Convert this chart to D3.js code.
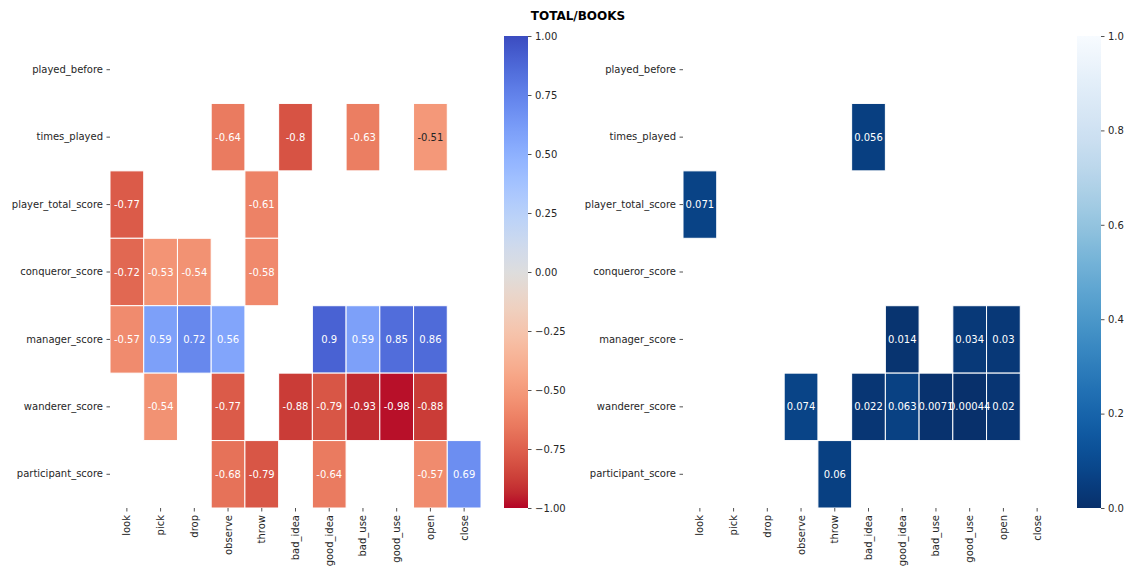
<!DOCTYPE html>
<html>
<head>
<meta charset="utf-8">
<script src="https://cdn.jsdelivr.net/npm/d3@7"></script>
<style>
  html, body { margin: 0; padding: 0; background: #fff; }
  text { font-family: "DejaVu Sans", sans-serif; }
</style>
</head>
<body>
<svg id="chart" width="1128" height="567"></svg>
<script>
// Row and column labels shared by both heatmaps
const rowLabels = ["played_before", "times_played", "player_total_score", "conqueror_score",
                   "manager_score", "wanderer_score", "participant_score"];
const colLabels = ["look", "pick", "drop", "observe", "throw", "bad_idea", "good_idea",
                   "bad_use", "good_use", "open", "close"];

// Correlation coefficients shown (row, column, r)
const corrCells = [
  ["times_played", "observe", -0.64], ["times_played", "bad_idea", -0.8],
  ["times_played", "bad_use", -0.63], ["times_played", "open", -0.51],
  ["player_total_score", "look", -0.77], ["player_total_score", "throw", -0.61],
  ["conqueror_score", "look", -0.72], ["conqueror_score", "pick", -0.53],
  ["conqueror_score", "drop", -0.54], ["conqueror_score", "throw", -0.58],
  ["manager_score", "look", -0.57], ["manager_score", "pick", 0.59],
  ["manager_score", "drop", 0.72], ["manager_score", "observe", 0.56],
  ["manager_score", "good_idea", 0.9], ["manager_score", "bad_use", 0.59],
  ["manager_score", "good_use", 0.85], ["manager_score", "open", 0.86],
  ["wanderer_score", "pick", -0.54], ["wanderer_score", "observe", -0.77],
  ["wanderer_score", "bad_idea", -0.88], ["wanderer_score", "good_idea", -0.79],
  ["wanderer_score", "bad_use", -0.93], ["wanderer_score", "good_use", -0.98],
  ["wanderer_score", "open", -0.88],
  ["participant_score", "observe", -0.68], ["participant_score", "throw", -0.79],
  ["participant_score", "good_idea", -0.64], ["participant_score", "open", -0.57],
  ["participant_score", "close", 0.69]
];

// p-values shown (row, column, p)
const pvalCells = [
  ["times_played", "bad_idea", 0.056],
  ["player_total_score", "look", 0.071],
  ["manager_score", "good_idea", 0.014], ["manager_score", "good_use", 0.034],
  ["manager_score", "open", 0.03],
  ["wanderer_score", "observe", 0.074], ["wanderer_score", "bad_idea", 0.022],
  ["wanderer_score", "good_idea", 0.063], ["wanderer_score", "bad_use", 0.0071],
  ["wanderer_score", "good_use", 0.00044], ["wanderer_score", "open", 0.02],
  ["participant_score", "throw", 0.06]
];

const corrTicks = [-1, -0.75, -0.5, -0.25, 0, 0.25, 0.5, 0.75, 1];
const pvalTicks = [0, 0.2, 0.4, 0.6, 0.8, 1];
const chartTitle = "TOTAL/BOOKS";

// Diverging coolwarm palette (blue -> grey -> red), sampled at 33 points
const coolwarmStops = [
  [59,76,192],[68,90,204],[77,104,215],[87,117,225],[98,130,234],[108,142,241],
  [119,154,247],[130,165,251],[141,176,254],[152,185,255],[163,194,255],[174,201,253],
  [184,208,249],[194,213,244],[204,217,238],[213,219,230],[221,221,221],[229,216,209],
  [236,211,197],[241,204,185],[245,196,173],[247,187,160],[247,177,148],[247,166,135],
  [244,154,123],[241,141,111],[236,127,99],[229,112,88],[222,96,77],[213,80,66],
  [203,62,56],[192,40,47],[180,4,38]
].map(c => d3.rgb(c[0], c[1], c[2]).formatHex());
const coolwarm = d3.piecewise(d3.interpolateRgb, coolwarmStops);
// reversed: -1 is red, +1 is blue
const corrColor = v => coolwarm(1 - (v + 1) / 2);
const pvalColor = v => d3.interpolateBlues(1 - v);

// Pick dark or light annotation text from cell luminance
function textColor(c) {
  const rgb = d3.rgb(c);
  const lin = x => { x /= 255; return x <= 0.03928 ? x / 12.92 : Math.pow((x + 0.055) / 1.055, 2.4); };
  const L = 0.2126 * lin(rgb.r) + 0.7152 * lin(rgb.g) + 0.0722 * lin(rgb.b);
  return L > 0.42 ? "#262626" : "#ffffff";
}
const annot = v => d3.format(".2~g")(v).replace("\u2212", "-");

const svg = d3.select("#chart");
const fs = 10;

svg.append("text")
  .attr("x", 578).attr("y", 20)
  .attr("text-anchor", "middle")
  .attr("font-size", 12).attr("font-weight", "bold")
  .attr("fill", "#000")
  .text(chartTitle);

const plotTop = 36, plotBottom = 508;

function heatmap(opts) {
  const x = d3.scaleBand().domain(colLabels).range([opts.left, opts.right]);
  const y = d3.scaleBand().domain(rowLabels).range([plotTop, plotBottom]);
  const g = svg.append("g");

  g.selectAll("rect.cell").data(opts.cells).join("rect")
    .attr("class", "cell")
    .attr("x", d => x(d[1])).attr("y", d => y(d[0]))
    .attr("width", x.bandwidth()).attr("height", y.bandwidth())
    .attr("fill", d => opts.color(d[2]))
    .attr("stroke", "#fff").attr("stroke-width", 1);

  g.selectAll("text.annot").data(opts.cells).join("text")
    .attr("class", "annot")
    .attr("x", d => x(d[1]) + x.bandwidth() / 2)
    .attr("y", d => y(d[0]) + y.bandwidth() / 2)
    .attr("dy", "0.35em")
    .attr("text-anchor", "middle")
    .attr("font-size", fs)
    .attr("fill", d => textColor(opts.color(d[2])))
    .text(d => annot(d[2]));

  // y axis
  const ya = g.append("g").attr("transform", `translate(${opts.left},0)`)
    .call(d3.axisLeft(y).tickSize(3.5).tickPadding(3.5));
  ya.select(".domain").remove();
  ya.selectAll(".tick line").attr("stroke", "#262626").attr("stroke-width", 0.8);
  ya.selectAll(".tick text").attr("font-size", fs).attr("fill", "#262626")
    .attr("font-family", "DejaVu Sans, sans-serif");

  // x axis, labels rotated
  const xa = g.append("g").attr("transform", `translate(0,${plotBottom})`)
    .call(d3.axisBottom(x).tickSize(3.5).tickPadding(3.5));
  xa.select(".domain").remove();
  xa.selectAll(".tick line").attr("stroke", "#262626").attr("stroke-width", 0.8);
  xa.selectAll(".tick text")
    .attr("font-size", fs).attr("fill", "#262626")
    .attr("font-family", "DejaVu Sans, sans-serif")
    .attr("transform", "rotate(-90)")
    .attr("text-anchor", "end")
    .attr("x", -7).attr("y", 0).attr("dy", "0.35em");

  // colorbar
  const cb = opts.cbar;
  const cs = d3.scaleLinear().domain(cb.domain).range([plotBottom, plotTop]);
  const gid = opts.id + "-grad";
  const grad = svg.append("defs").append("linearGradient")
    .attr("id", gid).attr("x1", 0).attr("y1", 1).attr("x2", 0).attr("y2", 0);
  d3.range(0, 65).forEach(i => {
    const t = i / 64;
    grad.append("stop").attr("offset", t)
      .attr("stop-color", opts.color(cb.domain[0] + t * (cb.domain[1] - cb.domain[0])));
  });
  g.append("rect").attr("x", cb.x).attr("y", plotTop)
    .attr("width", cb.w).attr("height", plotBottom - plotTop)
    .attr("fill", `url(#${gid})`);
  const ca = g.append("g").attr("transform", `translate(${cb.x + cb.w},0)`)
    .call(d3.axisRight(cs).tickValues(cb.ticks).tickFormat(d3.format(cb.fmt)).tickSize(3.5).tickPadding(3.5));
  ca.select(".domain").remove();
  ca.selectAll(".tick line").attr("stroke", "#262626").attr("stroke-width", 0.8);
  ca.selectAll(".tick text").attr("font-size", fs).attr("fill", "#262626")
    .attr("font-family", "DejaVu Sans, sans-serif");
}

heatmap({
  id: "corr", left: 110, right: 481, cells: corrCells, color: corrColor,
  cbar: { x: 504, w: 24, domain: [-1, 1], ticks: corrTicks, fmt: ".2f" }
});
heatmap({
  id: "pval", left: 683, right: 1054, cells: pvalCells, color: pvalColor,
  cbar: { x: 1077, w: 24, domain: [0, 1], ticks: pvalTicks, fmt: ".1f" }
});
</script>
</body>
</html>
